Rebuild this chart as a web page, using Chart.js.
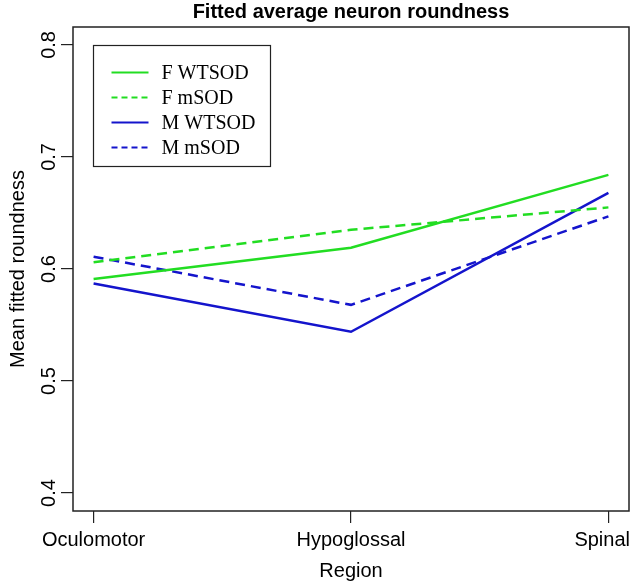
<!DOCTYPE html>
<html>
<head>
<meta charset="utf-8">
<script src="https://cdn.jsdelivr.net/npm/chart.js@4/dist/chart.umd.min.js"></script>
<style>
  body { margin: 0; background: #fff; }
  canvas { display: block; }
</style>
</head>
<body>
<canvas id="roundChart" width="631" height="586"></canvas>
<script>
// datos
const regions = ['Oculomotor', 'Hypoglossal', 'Spinal'];
const regionPos = [1, 2, 3];
const fWTSOD = [0.591, 0.619, 0.684];
const fMSOD = [0.606, 0.635, 0.655];
const mWTSOD = [0.587, 0.544, 0.668];
const mMSOD = [0.611, 0.568, 0.647];
const yTicks = [0.4, 0.5, 0.6, 0.7, 0.8];
const seriesNames = ['F WTSOD', 'F mSOD', 'M WTSOD', 'M mSOD'];

const green = '#22dd22';
const blue = '#1414cc';
const styles = [
    { color: green, dash: [] },
    { color: green, dash: [10, 6] },
    { color: blue, dash: [] },
    { color: blue, dash: [10, 6] }
];

function toPoints(values) {
    return regionPos.map((x, i) => ({ x: x, y: values[i] }));
}

const sansFont = '"Liberation Sans", Arial, sans-serif';

// caja, etiquetas de los ejes y leyenda al estilo R
const rBox = {
    id: 'rBox',
    afterDatasetsDraw(chart) {
        const ctx = chart.ctx;
        const a = chart.chartArea;
        const xScale = chart.scales.x;
        const yScale = chart.scales.y;
        ctx.save();
        ctx.strokeStyle = '#222';
        ctx.lineWidth = 1.5;
        ctx.strokeRect(a.left, a.top, a.right - a.left, a.bottom - a.top);

        ctx.fillStyle = '#000';
        ctx.font = '20px ' + sansFont;

        // etiquetas del eje x (la ultima no se sale del lienzo)
        ctx.textAlign = 'center';
        ctx.textBaseline = 'middle';
        xScale.ticks.forEach(t => {
            const label = regions[regionPos.indexOf(t.value)];
            const w = ctx.measureText(label).width;
            let px = xScale.getPixelForValue(t.value);
            px = Math.min(px, chart.width - w / 2 - 1);
            ctx.fillText(label, px, a.bottom + 29);
        });

        // etiquetas del eje y giradas
        ctx.textBaseline = 'alphabetic';
        yScale.ticks.forEach(t => {
            const py = yScale.getPixelForValue(t.value);
            ctx.save();
            ctx.translate(a.left - 18, py);
            ctx.rotate(-Math.PI / 2);
            ctx.fillText(t.value.toFixed(1), 0, 0);
            ctx.restore();
        });

        // leyenda
        const lx = a.left + 20.5, ly = a.top + 18.5;
        ctx.lineWidth = 1.2;
        ctx.strokeRect(lx, ly, 177, 121);
        ctx.font = '20px "Liberation Serif", "Times New Roman", serif';
        ctx.textAlign = 'left';
        ctx.textBaseline = 'middle';
        seriesNames.forEach((name, i) => {
            const ry = ly + 27 + i * 25;
            ctx.beginPath();
            ctx.strokeStyle = styles[i].color;
            ctx.lineWidth = 2;
            ctx.setLineDash(styles[i].dash.length ? [6, 4] : []);
            ctx.moveTo(lx + 18, ry);
            ctx.lineTo(lx + 55, ry);
            ctx.stroke();
            ctx.setLineDash([]);
            ctx.fillStyle = '#000';
            ctx.fillText(name, lx + 68, ry + 1);
        });
        ctx.restore();
    }
};

const ctx = document.getElementById('roundChart').getContext('2d');
new Chart(ctx, {
    type: 'line',
    data: {
        datasets: seriesNames.map((name, i) => ({
            label: name,
            data: toPoints([fWTSOD, fMSOD, mWTSOD, mMSOD][i]),
            borderColor: styles[i].color,
            borderDash: styles[i].dash,
            borderWidth: 2.5,
            pointRadius: 0,
            tension: 0,
            fill: false
        }))
    },
    options: {
        responsive: false,
        animation: false,
        layout: { padding: { left: 0, right: 2, top: 0, bottom: 0 }, autoPadding: false },
        plugins: {
            legend: { display: false },
            tooltip: { enabled: false },
            title: {
                display: true,
                fullSize: false,
                text: 'Fitted average neuron roundness',
                color: '#000',
                font: { family: sansFont, size: 20, weight: 'bold' },
                padding: { top: 0, bottom: 3 }
            }
        },
        scales: {
            x: {
                type: 'linear',
                min: 0.92,
                max: 3.08,
                afterBuildTicks: scale => { scale.ticks = regionPos.map(v => ({ value: v })); },
                afterFit: scale => {
                    scale.height = 75;
                    scale.paddingLeft = 0;
                    scale.paddingRight = 0;
                },
                ticks: { display: false },
                grid: { drawOnChartArea: false, drawTicks: true, tickLength: 12, color: '#222', lineWidth: 1.2 },
                border: { display: false },
                title: {
                    display: true,
                    text: 'Region',
                    color: '#000',
                    font: { family: sansFont, size: 20 },
                    padding: { top: 0, bottom: 3 }
                }
            },
            y: {
                min: 0.384,
                max: 0.816,
                afterBuildTicks: scale => { scale.ticks = yTicks.map(v => ({ value: v })); },
                afterFit: scale => {
                    scale.width = 73;
                    scale.paddingTop = 0;
                    scale.paddingBottom = 0;
                },
                ticks: { display: false },
                grid: { drawOnChartArea: false, drawTicks: true, tickLength: 12, color: '#222', lineWidth: 1.2 },
                border: { display: false },
                title: {
                    display: true,
                    text: 'Mean fitted roundness',
                    color: '#000',
                    font: { family: sansFont, size: 20 },
                    padding: { top: 6, bottom: 0 }
                }
            }
        }
    },
    plugins: [rBox]
});
</script>
</body>
</html>
